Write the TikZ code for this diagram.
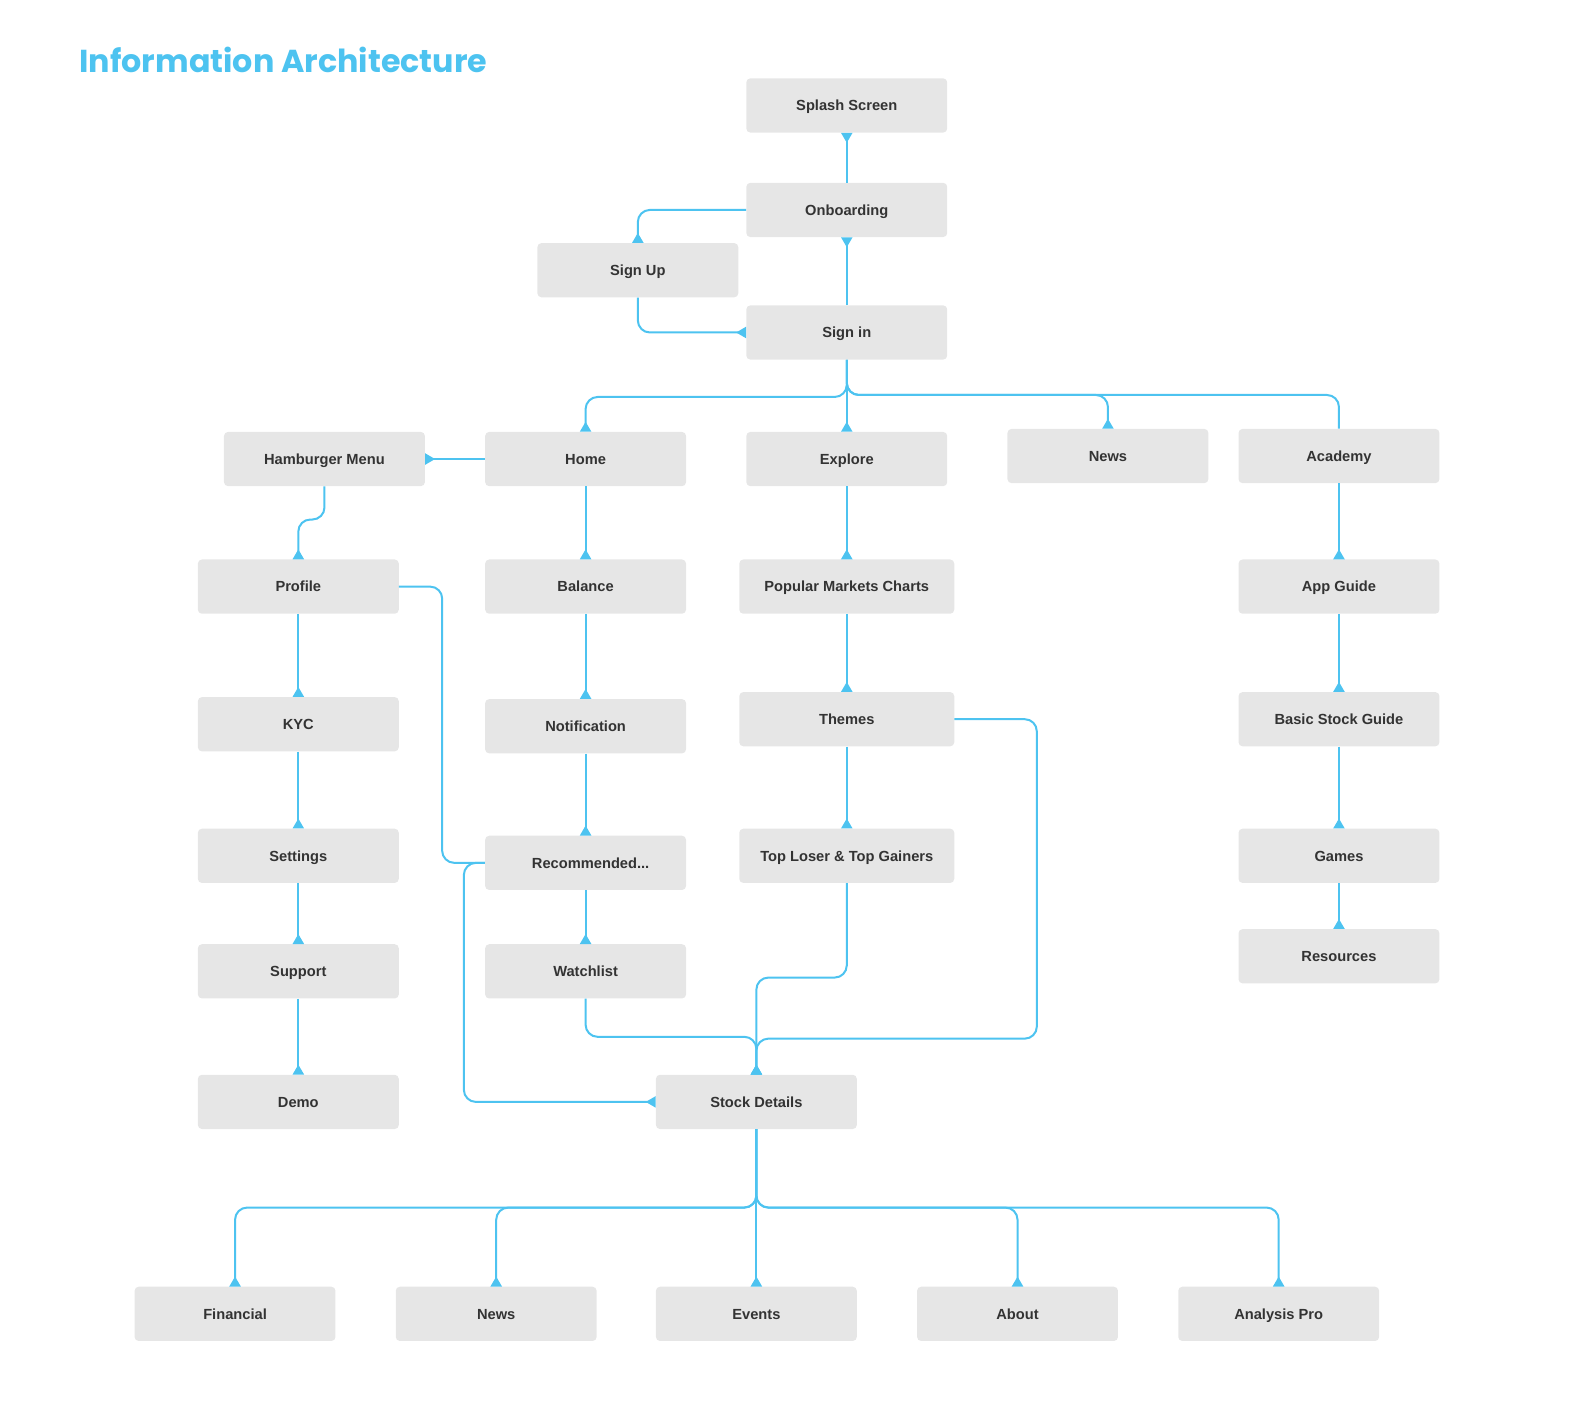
\documentclass[tikz,border=0pt]{standalone}
\usepackage{fontspec}
\setmainfont{Liberation Sans}
\newfontfamily\titlefont{Poppins}
\usetikzlibrary{arrows.meta, positioning}

\definecolor{iablue}{RGB}{77, 195, 240}
\definecolor{boxgray}{RGB}{230, 230, 230}
\definecolor{textgray}{RGB}{51, 51, 51}

\tikzset{
  screen/.style={fill=boxgray, rounded corners=4pt, minimum width=200pt, minimum height=54pt, inner sep=0pt, text height=10.4pt, text depth=0pt, font=\fontsize{14.6}{17}\selectfont\bfseries, text=textgray},
  widescreen/.style={screen, minimum width=214pt},
  link/.style={draw=iablue, line width=2pt, rounded corners=12pt},
  flow/.style={link, -{Triangle[reversed, length=10pt, width=11pt]}}
}

\begin{document}
\begin{tikzpicture}[x=1pt, y=-1pt]
  \useasboundingbox (0,0) rectangle (1568,1414);

  \node[anchor=base west, inner sep=0pt, text=iablue, font=\titlefont\bfseries\fontsize{31.6}{38}\selectfont] (title) at (79,72) {Information Architecture};

  % Entry
  \node[screen] (splash) at (843,105) {Splash Screen};
  \node[screen] (onb) at (843,209) {Onboarding};
  \node[screen] (signup) at (635,269) {Sign Up};
  \node[screen] (signin) at (843,331) {Sign in};

  % Main tabs
  \node[screen] (hamb) at (323,457) {Hamburger Menu};
  \node[screen] (home) at (583,457) {Home};
  \node[screen] (explore) at (843,457) {Explore};
  \node[screen] (news) at (1103,454) {News};
  \node[screen] (academy) at (1333,454) {Academy};

  % Menu column
  \node[screen] (profile) at (297,584) {Profile};
  \node[screen] (kyc) at (297,721) {KYC};
  \node[screen] (settings) at (297,852) {Settings};
  \node[screen] (support) at (297,967) {Support};
  \node[screen] (demo) at (297,1097) {Demo};

  % Home column
  \node[screen] (balance) at (583,584) {Balance};
  \node[screen] (notif) at (583,723) {Notification};
  \node[screen] (recom) at (583,859) {\hspace{10pt}Recommended...};
  \node[screen] (watch) at (583,967) {Watchlist};

  % Explore column
  \node[widescreen] (popular) at (843,584) {Popular Markets Charts};
  \node[widescreen] (themes) at (843,716) {Themes};
  \node[widescreen] (movers) at (843,852) {Top Loser \& Top Gainers};

  % Academy column
  \node[screen] (appguide) at (1333,584) {App Guide};
  \node[screen] (basics) at (1333,716) {Basic Stock Guide};
  \node[screen] (games) at (1333,852) {Games};
  \node[screen] (resources) at (1333,952) {Resources};

  % Stock details
  \node[screen] (stock) at (753,1097) {Stock Details};
  \node[screen] (financial) at (234,1308) {Financial};
  \node[screen] (stocknews) at (494,1308) {News};
  \node[screen] (events) at (753,1308) {Events};
  \node[screen] (about) at (1013,1308) {About};
  \node[screen] (analysis) at (1273,1308) {Analysis Pro};

  % Onboarding flow
  \draw[flow] (onb.north) -- (splash.south);
  \draw[flow] (signin.north) -- (onb.south);
  \draw[flow] (onb.west) -| (signup.north);
  \draw[flow] (signup.south) |- (signin.west);

  % Tabs
  \draw[flow] (signin.south) -- ++(0,37) -| (home.north);
  \draw[flow] (signin.south) -- (explore.north);
  \draw[flow] (signin.south) -- ++(0,35) -| (news.north);
  \draw[link] (signin.south) -- ++(0,35) -| (academy.north);
  \draw[flow] (home.west) -- (hamb.east);

  % Menu
  \draw[flow] (hamb.south) -- ++(0,33) -| (profile.north);
  \draw[flow] (profile.south) -- (kyc.north);
  \draw[flow] (kyc.south) -- (settings.north);
  \draw[flow] (settings.south) -- (support.north);
  \draw[flow] (support.south) -- (demo.north);
  \draw[link] (profile.east) -- ++(43,0) |- (recom.west);

  % Home
  \draw[flow] (home.south) -- (balance.north);
  \draw[flow] (balance.south) -- (notif.north);
  \draw[flow] (notif.south) -- (recom.north);
  \draw[flow] (recom.south) -- (watch.north);

  % Explore
  \draw[flow] (explore.south) -- (popular.north);
  \draw[flow] (popular.south) -- (themes.north);
  \draw[flow] (themes.south) -- (movers.north);

  % Academy
  \draw[flow] (academy.south) -- (appguide.north);
  \draw[flow] (appguide.south) -- (basics.north);
  \draw[flow] (basics.south) -- (games.north);
  \draw[flow] (games.south) -- (resources.north);

  % Into stock details
  \draw[flow] (recom.west) -- ++(-21,0) |- (stock.west);
  \draw[flow] (watch.south) -- ++(0,38) -| (stock.north);
  \draw[flow] (movers.south) -- ++(0,94) -| (stock.north);
  \draw[flow] (themes.east) -- ++(82,0) -- ++(0,318) -| (stock.north);

  % Stock details tabs
  \draw[flow] (stock.south) -- ++(0,78) -| (financial.north);
  \draw[flow] (stock.south) -- ++(0,78) -| (stocknews.north);
  \draw[flow] (stock.south) -- (events.north);
  \draw[flow] (stock.south) -- ++(0,78) -| (about.north);
  \draw[flow] (stock.south) -- ++(0,78) -| (analysis.north);
\end{tikzpicture}
\end{document}
